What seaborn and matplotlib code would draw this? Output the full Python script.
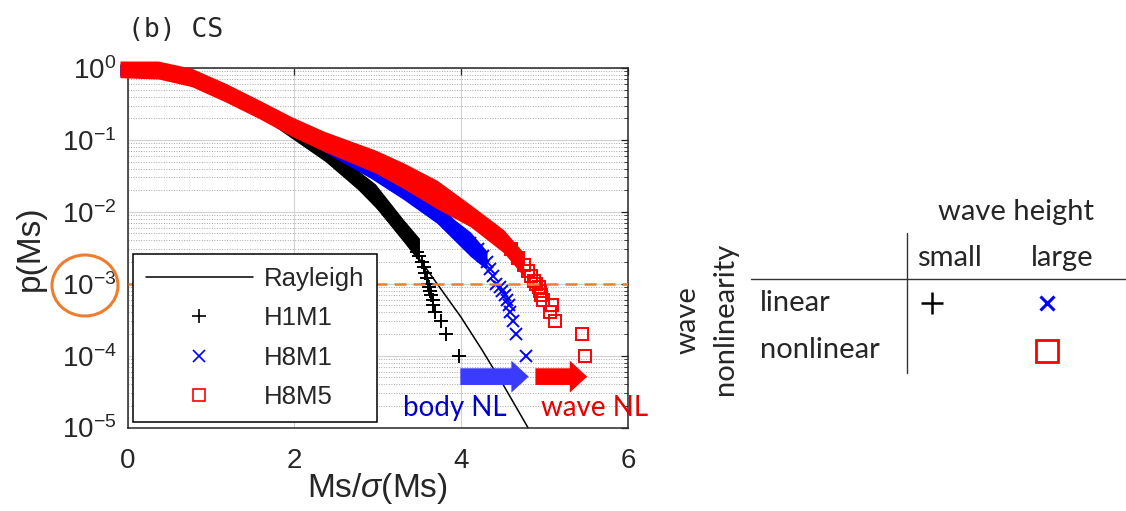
import numpy as np
import matplotlib
matplotlib.use("Agg")
import matplotlib.pyplot as plt
import seaborn as sns
from matplotlib.lines import Line2D
from matplotlib.patches import Ellipse
from matplotlib.ticker import LogLocator, NullFormatter

# Rayleigh reference curve
rayleigh_x = [0.0, 0.5, 1.0, 1.5, 2.0, 2.5, 3.0, 3.5, 4.0, 4.25, 4.5, 4.8]
rayleigh_p = [1.0, 0.88, 0.61, 0.32, 0.135, 0.044, 0.011, 2.2e-3, 3.4e-4, 1.2e-4, 4.0e-5, 1.0e-5]

# H1M1 (black +): upper / lower edge of the dense cloud, then the sparse tail
h1m1_x = [-0.09, 0.4, 0.8, 1.2, 1.6, 1.97, 2.37, 2.77, 2.97, 3.31, 3.5]
h1m1_hi = [1.15, 1.12, 0.90, 0.59, 0.331, 0.166, 0.0832, 0.0372, 0.0245, 0.00776, 0.00427]
h1m1_lo = [0.794, 0.741, 0.575, 0.380, 0.209, 0.105, 0.0501, 0.0200, 0.0118, 0.0038, 0.0020]
h1m1_tail_x = [3.47, 3.50, 3.53, 3.55, 3.57, 3.59, 3.60, 3.62, 3.63, 3.64, 3.66, 3.66, 3.69, 3.76, 3.82, 3.97]
h1m1_tail_p = [2.8e-3, 2.4e-3, 2.0e-3, 1.7e-3, 1.4e-3, 1.2e-3, 1.0e-3, 9e-4, 8e-4, 7e-4, 6e-4, 5e-4, 4e-4, 3e-4, 2e-4, 1e-4]

# H8M1 (blue x)
h8m1_x = [-0.09, 0.4, 0.8, 1.2, 1.6, 2.0, 2.4, 2.91, 3.31, 3.71, 3.91, 4.11, 4.31]
h8m1_hi = [1.12, 1.12, 0.87, 0.54, 0.32, 0.183, 0.108, 0.0501, 0.0282, 0.0141, 0.00794, 0.00525, 0.00282]
h8m1_lo = [0.75, 0.72, 0.56, 0.345, 0.205, 0.115, 0.064, 0.0295, 0.0148, 0.00692, 0.00407, 0.0024, 0.00155]
h8m1_tail_x = [4.11, 4.2, 4.26, 4.31, 4.35, 4.38, 4.42, 4.46, 4.49, 4.52, 4.55, 4.57, 4.58, 4.62, 4.66, 4.78]
h8m1_tail_p = [3.7e-3, 3.0e-3, 2.4e-3, 2.0e-3, 1.6e-3, 1.3e-3, 1.0e-3, 9e-4, 8e-4, 7e-4, 6e-4, 5e-4, 4e-4, 3e-4, 2e-4, 1e-4]

# H8M5 (red squares)
h8m5_x = [-0.09, 0.37, 0.77, 1.17, 1.57, 1.97, 2.37, 2.97, 3.31, 3.71, 4.11, 4.51, 4.75]
h8m5_hi = [1.25, 1.25, 0.99, 0.617, 0.363, 0.209, 0.130, 0.0724, 0.0479, 0.0275, 0.0126, 0.00562, 0.00269]
h8m5_lo = [0.733, 0.703, 0.550, 0.339, 0.200, 0.112, 0.0680, 0.0347, 0.0210, 0.0110, 0.0062, 0.00269, 0.00126]
h8m5_tail_x = [4.6, 4.68, 4.75, 4.80, 4.84, 4.87, 4.90, 4.93, 4.95, 4.96, 4.98, 5.09, 5.07, 5.13, 5.45, 5.49]
h8m5_tail_p = [3.0e-3, 2.3e-3, 1.8e-3, 1.5e-3, 1.3e-3, 1.1e-3, 1.0e-3, 9e-4, 8e-4, 7e-4, 6e-4, 5e-4, 4e-4, 3e-4, 2e-4, 1e-4]

threshold = 1e-3
body_arrow = (3.99, 4.81)
wave_arrow = (4.89, 5.51)
arrow_p = 5.1e-5

sns.set_style("white")
plt.rcParams['font.family'] = ['Liberation Sans', 'DejaVu Sans']
plt.rcParams['mathtext.fontset'] = 'custom'
plt.rcParams['mathtext.rm'] = 'Liberation Sans'
plt.rcParams['mathtext.it'] = 'Liberation Sans:italic'
plt.rcParams['mathtext.bf'] = 'Liberation Sans:bold'
table_font = ['Lato', 'DejaVu Sans']
orange = '#ED7D31'

W, H = 1126, 511
fig = plt.figure(figsize=(W / 100, H / 100), dpi=100)
ax = fig.add_axes([127.5 / W, 83.5 / H, 500.5 / W, 359.5 / H])
ax.set_yscale('log')

sns.lineplot(x=rayleigh_x, y=rayleigh_p, ax=ax, color='black', lw=1.1,
             estimator=None, sort=False, zorder=2)

series = [
    (h1m1_x, h1m1_hi, h1m1_lo, h1m1_tail_x, h1m1_tail_p, 'black', '+', 9.5),
    (h8m1_x, h8m1_hi, h8m1_lo, h8m1_tail_x, h8m1_tail_p, 'blue', 'x', 8.5),
    (h8m5_x, h8m5_hi, h8m5_lo, h8m5_tail_x, h8m5_tail_p, 'red', 's', 9.3),
]
for bx, hi, lo, tx, tp, col, mk, ms in series:
    ax.fill_between(bx, lo, hi, color=col, lw=0, clip_on=False, zorder=3)
    sns.lineplot(x=tx, y=tp, ax=ax, color=col, estimator=None, sort=False, linestyle='none',
                 marker=mk, markersize=ms, markeredgewidth=1.4, markeredgecolor=col,
                 markerfacecolor='none', clip_on=False, zorder=3)

ax.axhline(threshold, color=orange, lw=1.8, dashes=(4.8, 2.8), zorder=6)

for (x0, x1), col in [(body_arrow, '#3B3BFF'), (wave_arrow, '#FF0000')]:
    ax.annotate('', xy=(x1, arrow_p), xytext=(x0, arrow_p),
                arrowprops=dict(arrowstyle='simple,head_length=1.25,head_width=2.3,tail_width=1.2',
                                mutation_scale=10, color=col, shrinkA=0, shrinkB=0, lw=0),
                zorder=4)

ax.text(3.92, 1.44e-5, 'body NL', color='#0000CC', ha='center', va='baseline',
        fontsize=20, family=table_font, zorder=7)
ax.text(5.6, 1.44e-5, 'wave NL', color='#E60000', ha='center', va='baseline',
        fontsize=20, family=table_font, zorder=7)

ax.set_xlim(0, 6)
ax.set_ylim(1e-5, 1)
ax.set_xticks([0, 2, 4, 6])
ax.yaxis.set_major_locator(LogLocator(base=10, numticks=10))
ax.yaxis.set_minor_locator(LogLocator(base=10, subs=np.arange(2, 10), numticks=10))
ax.yaxis.set_minor_formatter(NullFormatter())
ax.tick_params(which='both', direction='in', top=True, right=True, colors='#262626')
ax.tick_params(which='major', length=5, width=0.9, labelsize=20)
ax.tick_params(which='minor', length=3, width=0.6)
ax.tick_params(axis='x', pad=15)
ax.tick_params(axis='y', pad=8)
ax.set_axisbelow(True)
ax.grid(which='major', color='#d2d2d2', lw=0.8)
ax.grid(which='minor', axis='y', color='#a8a8a8', lw=0.7, ls=(0, (1, 1.6)))
for sp in ax.spines.values():
    sp.set_color('#262626')
    sp.set_linewidth(1.1)

ax.set_xlabel('Ms/$\\sigma$(Ms)', fontsize=24)
ax.set_ylabel('p(Ms)', fontsize=24)
ax.xaxis.set_label_coords(0.5, -0.12)
ax.yaxis.set_label_coords(-0.163, 0.5)
ax.text(0.0, 1.105, '(b) CS', transform=ax.transAxes, fontsize=19,
        family=['DejaVu Sans Mono'], ha='left', va='center')

handles = [
    Line2D([], [], color='black', lw=1.1, label='Rayleigh'),
    Line2D([], [], color='black', marker='+', ls='none', ms=10, mew=1.2, label='H1M1'),
    Line2D([], [], color='blue', marker='x', ls='none', ms=8.5, mew=1.2, label='H8M1'),
    Line2D([], [], color='red', marker='s', ls='none', ms=8.5, mew=1.2, mfc='none', label='H8M5'),
]
leg = ax.legend(handles=handles, loc='lower left', fontsize=18.5, numpoints=1,
                handlelength=4.15, handletextpad=0.45, labelspacing=0.6, borderpad=0.5,
                borderaxespad=0.22, fancybox=False, framealpha=1, edgecolor='black')
leg.get_frame().set_linewidth(1.1)
leg.set_zorder(10)

# overlay in pixel coordinates for the circle mark and the side table
ov = fig.add_axes([0, 0, 1, 1])
ov.set_xlim(0, W)
ov.set_ylim(H, 0)
ov.axis('off')
ov.add_patch(Ellipse((85, 285.5), 66, 61, fill=False, edgecolor=orange, lw=2.2))

tfs = 21
ov.text(1016, 212, 'wave height', ha='center', va='center', fontsize=tfs, family=table_font)
ov.text(949, 258, 'small', ha='center', va='center', fontsize=tfs, family=table_font)
ov.text(1062, 258, 'large', ha='center', va='center', fontsize=tfs, family=table_font)
ov.text(760, 303, 'linear', ha='left', va='center', fontsize=tfs, family=table_font)
ov.text(760, 350, 'nonlinear', ha='left', va='center', fontsize=tfs, family=table_font)
ov.text(688, 320, 'wave', ha='center', va='center', rotation=90, fontsize=tfs, family=table_font)
ov.text(725, 319, 'nonlinearity', ha='center', va='center', rotation=90, fontsize=tfs, family=table_font)
ov.plot([751, W], [279, 279], color='#333333', lw=1.0)
ov.plot([907, 907], [233, 373], color='#333333', lw=1.0)
ov.plot([932], [303], marker='+', color='black', ms=16, mew=1.8)
ov.plot([1047], [303], marker='x', color='blue', ms=10, mew=2.2)
ov.plot([1047], [351], marker='s', color='red', mfc='none', ms=15.5, mew=2.0)

fig.savefig('out.png', dpi=100)
